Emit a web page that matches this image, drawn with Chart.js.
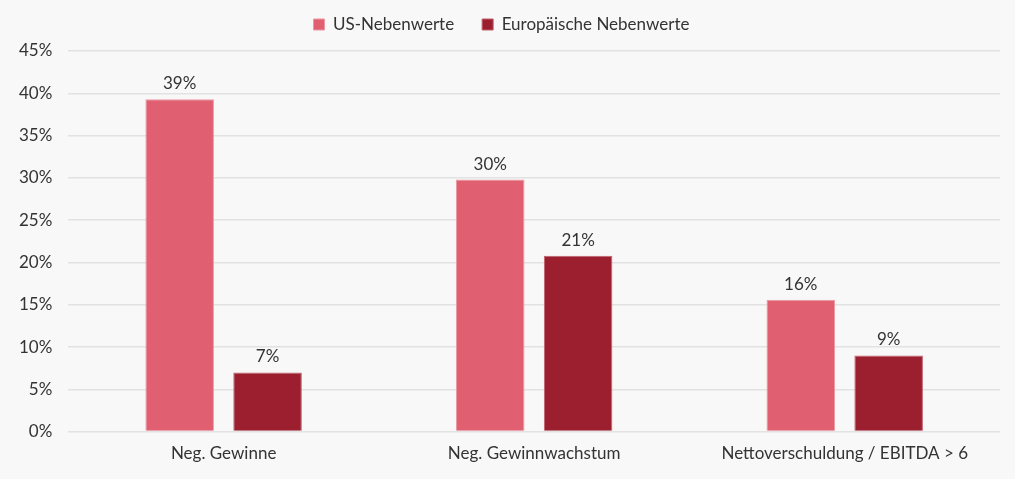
<!DOCTYPE html>
<html>
<head>
<meta charset="utf-8">
<script src="https://cdn.jsdelivr.net/npm/chart.js@4"></script>
<style>
    html, body { margin: 0; padding: 0; background: #f8f8f8; }
    #wrap { width: 1015px; height: 479px; position: relative; }
</style>
</head>
<body>
<div id="wrap"><canvas id="chart"></canvas></div>
<script>
const categories = ['Neg. Gewinne', 'Neg. Gewinnwachstum', 'Nettoverschuldung / EBITDA > 6'];
const seriesNames = ['US-Nebenwerte', 'Europäische Nebenwerte'];
const usValues = [39.3, 29.8, 15.6];
const euValues = [7.0, 20.8, 9.0];
const usLabels = ['39%', '30%', '16%'];
const euLabels = ['7%', '21%', '9%'];

const FONT = 'Lato, "Open Sans", sans-serif';
const TEXT = '#333333';

// draws the value text above each bar
const barLabels = {
    id: 'barLabels',
    afterDatasetsDraw(chart) {
        const ctx = chart.ctx;
        ctx.save();
        ctx.font = '17px ' + FONT;
        ctx.fillStyle = TEXT;
        ctx.textAlign = 'center';
        ctx.textBaseline = 'bottom';
        chart.data.datasets.forEach((ds, i) => {
            chart.getDatasetMeta(i).data.forEach((bar, j) => {
                ctx.fillText(ds.valueLabels[j], bar.x, bar.y - 7);
            });
        });
        ctx.restore();
    }
};

// keep the wide gap between legend items but a short legend box
const legendHeight = {
    id: 'legendHeight',
    afterInit(chart) {
        const lg = chart.legend;
        if (!lg) return;
        const fit = lg.fit;
        lg.fit = function () {
            fit.call(this);
            this.height = 63;
        };
    }
};

new Chart(document.getElementById('chart'), {
    type: 'bar',
    data: {
        labels: categories,
        datasets: [
            {
                label: seriesNames[0],
                data: usValues,
                valueLabels: usLabels,
                backgroundColor: '#e05f70',
                borderColor: '#ec98a2',
                borderWidth: 1
            },
            {
                label: seriesNames[1],
                data: euValues,
                valueLabels: euLabels,
                backgroundColor: '#9c1f30',
                borderColor: '#c0606c',
                borderWidth: 1
            }
        ]
    },
    options: {
        responsive: true,
        maintainAspectRatio: false,
        animation: false,
        categoryPercentage: 0.566,
        barPercentage: 0.78,
        layout: {
            padding: { left: 3, right: 15, top: -12, bottom: 11 }
        },
        plugins: {
            legend: {
                position: 'top',
                labels: {
                    boxWidth: 11,
                    boxHeight: 11,
                    padding: 28,
                    color: TEXT,
                    font: { family: FONT, size: 17 }
                }
            },
            tooltip: { enabled: false }
        },
        scales: {
            x: {
                grid: { display: false },
                border: { display: false },
                ticks: {
                    color: TEXT,
                    padding: 4,
                    font: { family: FONT, size: 17 }
                }
            },
            y: {
                min: 0,
                max: 45,
                border: { display: false },
                grid: { color: '#e2e2e2', lineWidth: 1.5, drawTicks: false },
                ticks: {
                    stepSize: 5,
                    color: TEXT,
                    padding: 16,
                    font: { family: FONT, size: 17 },
                    callback: v => v + '%'
                }
            }
        }
    },
    plugins: [barLabels, legendHeight]
});
</script>
</body>
</html>
